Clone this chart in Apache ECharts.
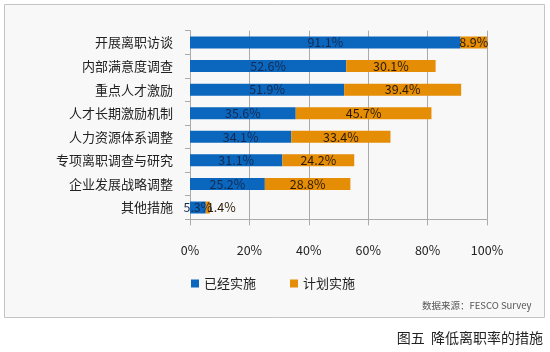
<!DOCTYPE html>
<html><head><meta charset="utf-8">
<script src="https://cdn.jsdelivr.net/npm/echarts@6/dist/echarts.min.js"></script>
<style>html,body{margin:0;padding:0;background:#fff}#c{width:550px;height:352px}</style>
</head><body><div id="c"></div>
<script>
const categories = ['开展离职访谈','内部满意度调查','重点人才激励','人才长期激励机制','人力资源体系调整','专项离职调查与研究','企业发展战略调整','其他措施'];
const implemented = [91.1, 52.6, 51.9, 35.6, 34.1, 31.1, 25.2, 5.3];
const planned = [8.9, 30.1, 39.4, 45.7, 33.4, 24.2, 28.8, 1.4];
const seriesNames = ['已经实施','计划实施'];
const xTicks = [0, 20, 40, 60, 80, 100];
const sourceText = '数据来源：FESCO Survey';
const captionText = '图五  降低离职率的措施';

const chart = echarts.init(document.getElementById('c'), null, {renderer:'canvas'});
const font = '"Noto Sans CJK SC","Noto Sans",sans-serif';
function items(arr){
  return arr.map(v => v < 3 ? {value:v, label:{position:'right', distance:-3}} : v);
}
chart.setOption({
  animation:false,
  textStyle:{fontFamily:font},
  graphic:[
    {type:'rect', z:-10, shape:{x:4.5,y:4.5,width:540,height:313}, style:{fill:'#f8f8f8', stroke:'#c4c4c4', lineWidth:1}},
    {type:'text', left:422, top:301, style:{text:sourceText, fontSize:9.5, fill:'#555', fontFamily:font}},
    {type:'text', right:7, top:331, style:{text:captionText, fontSize:14, fill:'#222', fontFamily:font}}
  ],
  legend:{
    left:186, top:272, itemWidth:8, itemHeight:8, itemGap:34, icon:'rect',
    textStyle:{fontSize:13, color:'#222', fontFamily:font},
    data:seriesNames
  },
  grid:{left:190, right:63, top:30.7, bottom:132.7, containLabel:false},
  xAxis:{
    type:'value', min:xTicks[0], max:xTicks[xTicks.length-1], interval:20,
    axisLine:{show:true, lineStyle:{color:'#aaa'}},
    axisTick:{show:true, length:6, lineStyle:{color:'#aaa'}},
    splitLine:{show:true, lineStyle:{color:'#aaa'}},
    axisLabel:{formatter:'{value}%', margin:25, fontSize:12.5, color:'#222', fontFamily:font}
  },
  yAxis:{
    type:'category', data:categories, inverse:true,
    axisLine:{show:true, lineStyle:{color:'#aaa'}},
    axisTick:{show:true, length:5, lineStyle:{color:'#aaa'}},
    axisLabel:{margin:17, fontSize:13, color:'#222', fontFamily:font}
  },
  series:[
    {name:seriesNames[0], type:'bar', stack:'a', barWidth:12, data:items(implemented),
     itemStyle:{color:'#0a67bd'},
     label:{show:true, position:'inside', formatter:'{c}%', fontSize:12.5, color:'#142a52', fontFamily:font}},
    {name:seriesNames[1], type:'bar', stack:'a', barWidth:12, data:items(planned),
     itemStyle:{color:'#e58d05'},
     label:{show:true, position:'inside', formatter:'{c}%', fontSize:12.5, color:'#2a1a05', fontFamily:font}}
  ]
});
</script></body></html>
